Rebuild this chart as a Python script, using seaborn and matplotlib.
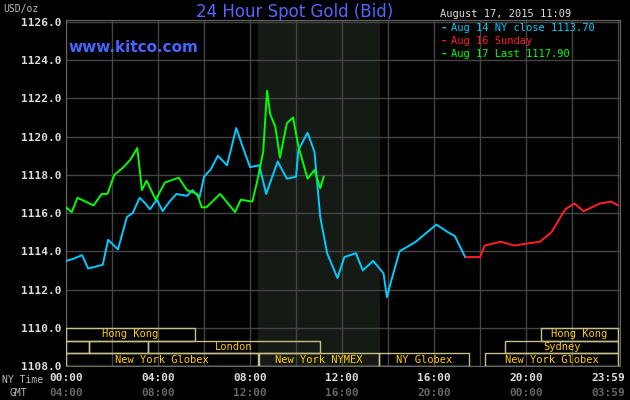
import matplotlib
matplotlib.use("Agg")
import matplotlib.pyplot as plt
import seaborn as sns
import pandas as pd

blue_h = [0.0,0.3,0.7,0.96,1.3,1.6,1.83,2.26,2.65,2.9,3.2,3.45,3.65,3.95,4.2,4.5,4.8,5.26,5.5,5.8,6.0,6.3,6.6,7.0,7.4,7.7,8.0,8.4,8.7,9.2,9.6,10.0,10.1,10.5,10.8,11.05,11.35,11.8,12.1,12.6,12.9,13.35,13.8,13.95,14.1,14.5,15.2,15.7,16.1,16.6,16.9,17.35]
blue_p = [1113.5,1113.6,1113.8,1113.1,1113.2,1113.3,1114.6,1114.1,1115.8,1116.0,1116.8,1116.5,1116.2,1116.7,1116.1,1116.6,1117.0,1116.9,1117.2,1116.8,1117.9,1118.3,1119.0,1118.5,1120.45,1119.4,1118.4,1118.5,1117.0,1118.7,1117.8,1117.9,1119.3,1120.2,1119.2,1115.8,1113.9,1112.6,1113.7,1113.9,1113.0,1113.5,1112.85,1111.6,1112.3,1114.0,1114.5,1115.0,1115.4,1115.0,1114.8,1113.7]

green_h = [0.0,0.25,0.5,1.2,1.55,1.8,2.1,2.5,2.8,3.1,3.3,3.5,3.9,4.3,4.9,5.26,5.7,5.9,6.1,6.7,7.35,7.6,8.1,8.3,8.57,8.74,8.87,9.1,9.3,9.6,9.87,10.1,10.5,10.8,11.05,11.2]
green_p = [1116.3,1116.05,1116.8,1116.4,1117.0,1117.0,1118.0,1118.4,1118.8,1119.4,1117.2,1117.7,1116.7,1117.6,1117.85,1117.2,1117.0,1116.3,1116.3,1117.0,1116.05,1116.7,1116.6,1117.6,1119.2,1122.4,1121.2,1120.5,1118.9,1120.7,1121.0,1119.5,1117.8,1118.25,1117.3,1117.9]

red_h = [17.4,18.0,18.2,18.9,19.5,20.0,20.6,21.1,21.7,22.1,22.5,23.2,23.7,24.0]
red_p = [1113.7,1113.7,1114.3,1114.5,1114.3,1114.4,1114.5,1115.0,1116.2,1116.5,1116.1,1116.5,1116.6,1116.4]

x_ticks = [0, 4, 8, 12, 16, 20, 23.98]
ny_labels = ["00:00", "04:00", "08:00", "12:00", "16:00", "20:00", "23:59"]
gmt_labels = ["04:00", "08:00", "12:00", "16:00", "20:00", "00:00", "03:59"]
y_ticks = [1108, 1110, 1112, 1114, 1116, 1118, 1120, 1122, 1124, 1126]

legend_labels = ["Aug 14 NY close 1113.70", "Aug 16 Sunday", "Aug 17 Last 1117.90"]
legend_colors = ["#00ccff", "#ff2020", "#00ff00"]

sessions = [  # (start, end, row, label)
    (0, 5.6, 0, "Hong Kong"), (20.65, 24, 0, "Hong Kong"),
    (0, 1.0, 1, ""), (1.0, 3.55, 1, ""), (3.55, 11.05, 1, "London"), (19.1, 24, 1, "Sydney"),
    (0, 8.35, 2, "New York Globex"), (8.4, 13.6, 2, "New York NYMEX"),
    (13.6, 17.5, 2, "NY Globex"), (18.2, 24, 2, "New York Globex"),
]

mono = "DejaVu Sans Mono"
fig = plt.figure(figsize=(6.3, 4.0), dpi=100, facecolor="black")
ax = fig.add_axes([66/630, 34/400, 554/630, 346/400])
ax.set_facecolor("black")
ax.set_xlim(0, 24.08)
ax.set_ylim(1108, 1126.1)
ax.axvspan(8.35, 13.6, color="#151a15", zorder=0)
for x in range(0, 25, 2):
    ax.axvline(x, color="#444444", lw=1, zorder=1)
for y in y_ticks:
    ax.axhline(y, color="#444444", lw=1, zorder=1)

for h, p, c in [(blue_h, blue_p, legend_colors[0]), (red_h, red_p, legend_colors[1]), (green_h, green_p, legend_colors[2])]:
    df = pd.DataFrame({"h": h, "p": p})
    sns.lineplot(data=df, x="h", y="p", ax=ax, color=c, lw=1.4, sort=False, estimator=None, zorder=3)

row_top = [1110.0, 1109.33, 1108.67]
for s, e, r, lab in sessions:
    top = row_top[r]
    ax.add_patch(plt.Rectangle((s, top - 0.67), e - s, 0.67, fill=False, ec="#c8c08a", lw=1, zorder=4))
    if lab:
        ax.text((s + e) / 2, top - 0.33, lab, color="#ffcc00", fontsize=7.5, family=mono,
                ha="center", va="center", zorder=5)

ax.set_xticks(x_ticks)
ax.set_xticklabels([])
ax.set_yticks(y_ticks)
ax.set_yticklabels([f"{v:.1f}" for v in y_ticks], color="#dddddd", family=mono, fontsize=8, fontweight="bold")
ax.tick_params(axis="both", length=0)
ax.set_xlabel(""); ax.set_ylabel("")
for sp in ax.spines.values():
    sp.set_color("#666666")

trans = ax.get_xaxis_transform()
for i, (x, a, b) in enumerate(zip(x_ticks, ny_labels, gmt_labels)):
    last = i == len(x_ticks) - 1
    ha = "right" if last else "center"
    xx = 24.3 if last else x
    ax.text(xx, -12/346, a, transform=trans, ha=ha, va="center", color="#dddddd", family=mono, fontsize=8, fontweight="bold", clip_on=False)
    ax.text(xx, -27/346, b, transform=trans, ha=ha, va="center", color="#666666", family=mono, fontsize=8, fontweight="bold", clip_on=False)
fig.text(2/630, 1-380/400, "NY Time", color="#bbbbbb", family=mono, fontsize=7, va="center")
fig.text(10/630, 1-393/400, "GMT", color="#bbbbbb", family=mono, fontsize=7, va="center")

fig.text(295/630, 1-12/400, "24 Hour Spot Gold (Bid)", color="#5566ff", fontsize=12, ha="center", va="center")
fig.text(3/630, 1-9/400, "USD/oz", color="#bbbbbb", family=mono, fontsize=7, va="center")
fig.text(440/630, 1-14/400, "August 17, 2015 11:09", color="#dddddd", family=mono, fontsize=7.5, va="center")
fig.text(68/630, 1-48/400, "www.kitco.com", color="#4466ff", fontsize=11, fontweight="bold", va="center")
for i, (lab, c) in enumerate(zip(legend_labels, legend_colors)):
    y = 1 - (28 + 13*i)/400
    fig.text(440/630, y, "-", color=c, family=mono, fontsize=8, va="center", fontweight="bold")
    fig.text(451/630, y, lab, color=c, family=mono, fontsize=7.5, va="center")

fig.savefig("out.png", dpi=100, facecolor="black")
